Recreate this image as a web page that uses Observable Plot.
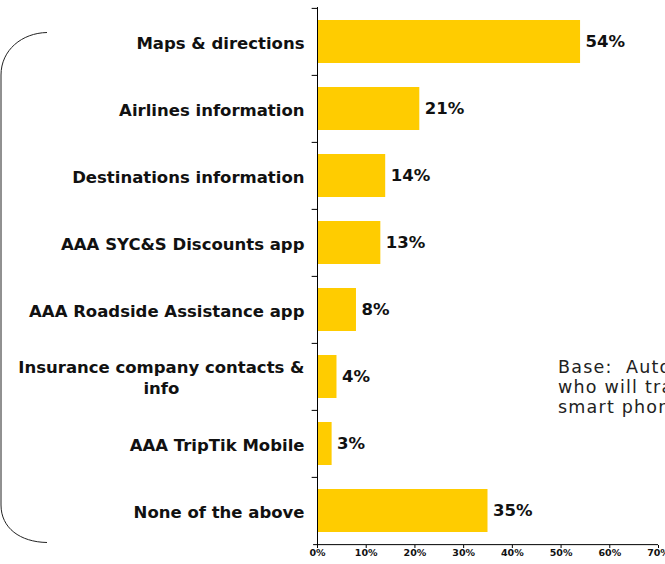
<!DOCTYPE html>
<html>
<head>
<meta charset="utf-8">
<script src="https://cdn.jsdelivr.net/npm/d3@7"></script>
<script src="https://cdn.jsdelivr.net/npm/@observablehq/plot@0.6"></script>
<style>
  html, body { margin: 0; padding: 0; background: #fff; overflow: hidden; }
  #wrap { position: relative; width: 665px; height: 564px; overflow: hidden; }
  #base { position: absolute; left: 558px; top: 357px; font-family: "DejaVu Sans", Verdana, sans-serif;
          font-size: 17.5px; line-height: 20px; letter-spacing: 1.2px; color: #222; white-space: pre; }
  #bracket { position: absolute; left: 0; top: 0; pointer-events: none; }
</style>
</head>
<body>
<div id="wrap"><div id="chart"></div><div id="base"></div></div>
<script>
const categories = [
  "Maps & directions",
  "Airlines information",
  "Destinations information",
  "AAA SYC&S Discounts app",
  "AAA Roadside Assistance app",
  "Insurance company contacts & info",
  "AAA TripTik Mobile",
  "None of the above"
];
const values = [0.54, 0.21, 0.14, 0.13, 0.08, 0.04, 0.03, 0.35];
const xTicks = [0, 0.1, 0.2, 0.3, 0.4, 0.5, 0.6, 0.7];
const baseNote = "Base:  Auto travelers\nwho will travel with a\nsmart phone";

const data = categories.map((c, i) => ({category: c, value: values[i]}));

const W = 665, H = 564, mT = 7, mB = 19, mL = 317, mR = 7;
const step = (H - mT - mB) / categories.length;
const pct = d3.format(".0%");
const wrapLabel = d => d === "Insurance company contacts & info" ? "Insurance company contacts &\ninfo" : d;

const chart = Plot.plot({
  width: W,
  height: H,
  marginTop: mT,
  marginBottom: mB,
  marginLeft: mL,
  marginRight: mR,
  style: {fontFamily: "DejaVu Sans, Verdana, sans-serif", color: "#000", background: "#fff"},
  x: {domain: [0, 0.7]},
  y: {domain: categories, paddingInner: 0.36, paddingOuter: 0.18},
  marks: [
    Plot.barX(data, {y: "category", x: "value", fill: "#FFCC00"}),
    Plot.text(data, {y: "category", x: "value", text: d => pct(d.value), textAnchor: "start", dx: 5,
      fontSize: 16.5, fontWeight: "bold", fill: "#111"}),
    Plot.ruleX([0], {stroke: "#000", strokeWidth: 1}),
    Plot.ruleY(categories, {y: d => d, x1: -0.011, x2: 0, dy: -step / 2, stroke: "#000"}),
    Plot.ruleY([categories[categories.length - 1]], {y: d => d, x1: -0.008, x2: 0.7, dy: step / 2, stroke: "#000"}),
    Plot.axisX({ticks: xTicks, tickFormat: pct, tickSize: 3, tickPadding: 1, fontSize: 9.5, fontWeight: "bold",
      stroke: "#000", fill: "#111", label: null}),
    Plot.axisY({tickSize: 0, tickPadding: 13, tickFormat: wrapLabel, fontSize: 16.5, fontWeight: "bold",
      fill: "#111", lineHeight: 1.27, label: null})
  ]
});

document.getElementById("chart").appendChild(chart);
document.getElementById("base").textContent = baseNote;

// center multi-line y labels within their block
chart.querySelectorAll("text").forEach(t => {
  const spans = t.querySelectorAll("tspan");
  if (spans.length > 1) {
    let maxW = 0;
    spans.forEach(s => { maxW = Math.max(maxW, s.getComputedTextLength()); });
    t.setAttribute("text-anchor", "middle");
    spans.forEach(s => s.setAttribute("x", -maxW / 2));
  }
});

// decorative bracket at left
const ns = "http://www.w3.org/2000/svg";
const svg = document.createElementNS(ns, "svg");
svg.setAttribute("id", "bracket");
svg.setAttribute("width", 60);
svg.setAttribute("height", H);
const path = document.createElementNS(ns, "path");
path.setAttribute("d", "M47,32.5 C22,33 1,50 1,75 L1,505 C1,528 20,542 47,542.5");
path.setAttribute("fill", "none");
path.setAttribute("stroke", "#222");
path.setAttribute("stroke-width", "1");
svg.appendChild(path);
document.getElementById("wrap").appendChild(svg);
</script>
</body>
</html>
